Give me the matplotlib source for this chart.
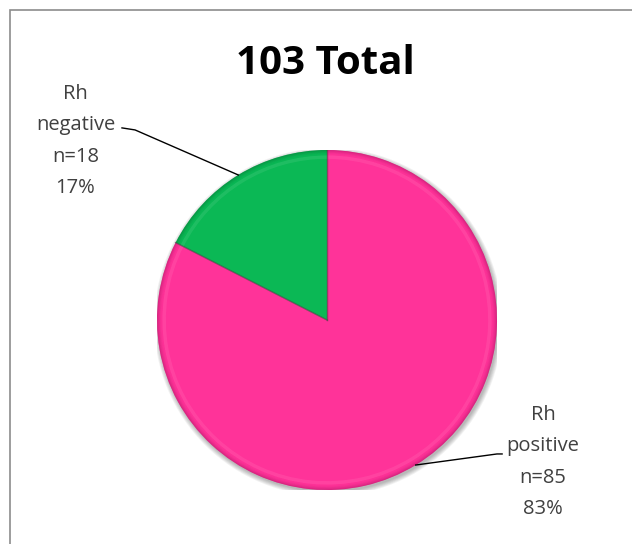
import numpy as np
import matplotlib.pyplot as plt
from matplotlib.patches import Rectangle, Wedge, Circle

# data
labels = ["Rh\npositive", "Rh\nnegative"]
counts = [85, 18]
colors = ["#FF3399", "#0BB855"]
rims = ["#A0105C", "#04692F"]
title = "103 Total"

W, H = 632, 544
fig = plt.figure(figsize=(W / 100, H / 100), dpi=100)
plt.rcParams['font.family'] = ['Open Sans', 'DejaVu Sans']

# chart border (right and bottom edges are cut off in the source)
fig.patches.append(Rectangle((10 / W, -0.1), 1.2, 1 - 10 / H + 0.1, transform=fig.transFigure,
                             fill=False, edgecolor="#8c8c8c", linewidth=1.2))

cx, cy, r = 327, 320, 170
ax = fig.add_axes([(cx - r) / W, (H - cy - r) / H, 2 * r / W, 2 * r / H])

# soft drop shadow behind the pie
for k in range(6):
    ax.add_patch(Circle((0.008, -0.012), 1.0 + 0.005 * k, facecolor="black",
                        alpha=0.05, linewidth=0, zorder=0))

wedges, _ = ax.pie(counts, colors=colors, startangle=90, counterclock=False, radius=1,
                   wedgeprops=dict(linewidth=0, zorder=1))

# subtle bevel near the outer rim
for w, rc in zip(wedges, rims):
    t1, t2 = w.theta1, w.theta2
    for k in range(8):
        rr = 1.0 - 0.004 * k
        ax.add_patch(Wedge((0, 0), rr, t1, t2, width=0.004, facecolor=rc,
                           alpha=0.45 * (1 - k / 8) ** 2, linewidth=0, zorder=2))
    ax.add_patch(Wedge((0, 0), 0.968, t1, t2, width=0.02, facecolor="white", alpha=0.08,
                       linewidth=0, zorder=2))
    # darker radial edges
    for th in (t1, t2):
        a = np.deg2rad(th)
        ax.plot([0, np.cos(a)], [0, np.sin(a)], color=rc, alpha=0.35, linewidth=1.0, zorder=3)

ax.set_xlim(-1, 1)
ax.set_ylim(-1, 1)
ax.axis("off")

total = sum(counts)
# label positions in pie-radius units
text_pos = [(1.27, -0.835), (-1.48, 1.053)]
elbow = [[(1.0, -0.788), (1.03, -0.788)], [(-1.129, 1.118), (-1.206, 1.13)]]
for w, lab, n, tp, el in zip(wedges, labels, counts, text_pos, elbow):
    mid = np.deg2rad((w.theta1 + w.theta2) / 2)
    x0, y0 = np.cos(mid), np.sin(mid)
    xs = [x0] + [p[0] for p in el]
    ys = [y0] + [p[1] for p in el]
    ax.plot(xs, ys, color="black", linewidth=1, clip_on=False, zorder=4)
    txt = f"{lab}\nn={n}\n{round(100 * n / total)}%"
    ax.text(tp[0], tp[1], txt, ha="center", va="center", fontsize=14.5, color="#404040",
            linespacing=1.75, clip_on=False)

fig.text(325 / W, 1 - 63 / H, title, ha="center", va="center", fontsize=29, fontweight="bold",
         color="black")

fig.savefig("out.png", dpi=100)
